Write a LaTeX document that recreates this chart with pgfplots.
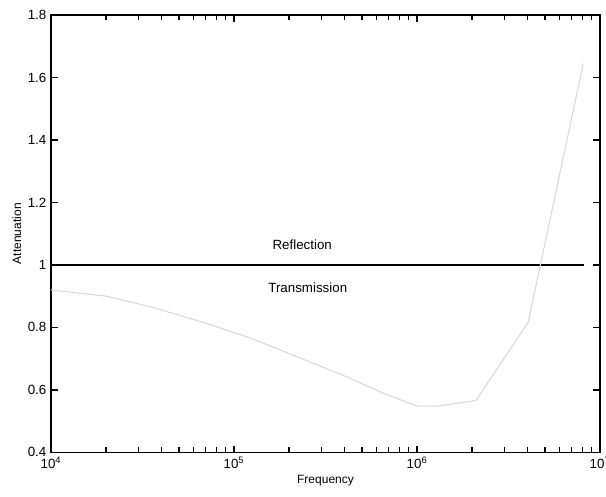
\documentclass[border=0pt]{standalone}
\usepackage{pgfplots}
\pgfplotsset{compat=1.18}
\usepackage{fontspec}
\setmainfont{Liberation Sans}
\begin{document}
\fontsize{10pt}{12pt}\selectfont
\begin{tikzpicture}
\begin{axis}[
  scale only axis,
  width=411.75pt, height=328pt,
  xmode=log,
  xmin=1e4, xmax=1e7,
  ymin=0.4, ymax=1.8,
  xtick={1e4,1e5,1e6,1e7},
  xticklabels={10\textsuperscript{4},10\textsuperscript{5},10\textsuperscript{6},10\textsuperscript{7}},
  minor xtick={2e4,3e4,4e4,5e4,6e4,7e4,8e4,9e4,2e5,3e5,4e5,5e5,6e5,7e5,8e5,9e5,2e6,3e6,4e6,5e6,6e6,7e6,8e6,9e6},
  ytick={0.4,0.6,0.8,1,1.2,1.4,1.6,1.8},
  yticklabels={0.4,0.6,0.8,1,1.2,1.4,1.6,1.8},
  tick align=inside,
  xtick pos=both, ytick pos=both,
  major tick length=5pt,
  minor tick length=4pt,
  axis line style={line width=0.9pt},
  major tick style={draw=black, line width=1pt},
  minor tick style={draw=black, line width=1pt},
  xlabel={Frequency},
  ylabel={Attenuation},
  xlabel style={yshift=2pt},
  ylabel style={yshift=-2pt},
  tick label style={font=\fontsize{10pt}{12pt}\selectfont},
  label style={font=\fontsize{9pt}{11pt}\selectfont},
  clip=false,
]
\addplot[black, line width=1.1pt] coordinates {(1e4,1) (8.2e6,1)};
\addplot[gray!30, line width=0.8pt] coordinates {
  (1e4,0.920) (2e4,0.900) (3.5e4,0.866) (6.8e4,0.816) (1.23e5,0.766)
  (2.3e5,0.702) (4e5,0.645) (6.5e5,0.590) (1e6,0.548) (1.3e6,0.548)
  (2.1e6,0.566) (4.05e6,0.816) (8.1e6,1.645)
};
\node at (axis cs:2.36e5,1.064) {Reflection};
\node at (axis cs:2.53e5,0.926) {Transmission};
\end{axis}
\pgfresetboundingbox
\useasboundingbox ([shift={(-38.25pt,-33.4pt)}]current axis.south west) rectangle ([shift={(4.5pt,11.25pt)}]current axis.north east);
\end{tikzpicture}
\end{document}
